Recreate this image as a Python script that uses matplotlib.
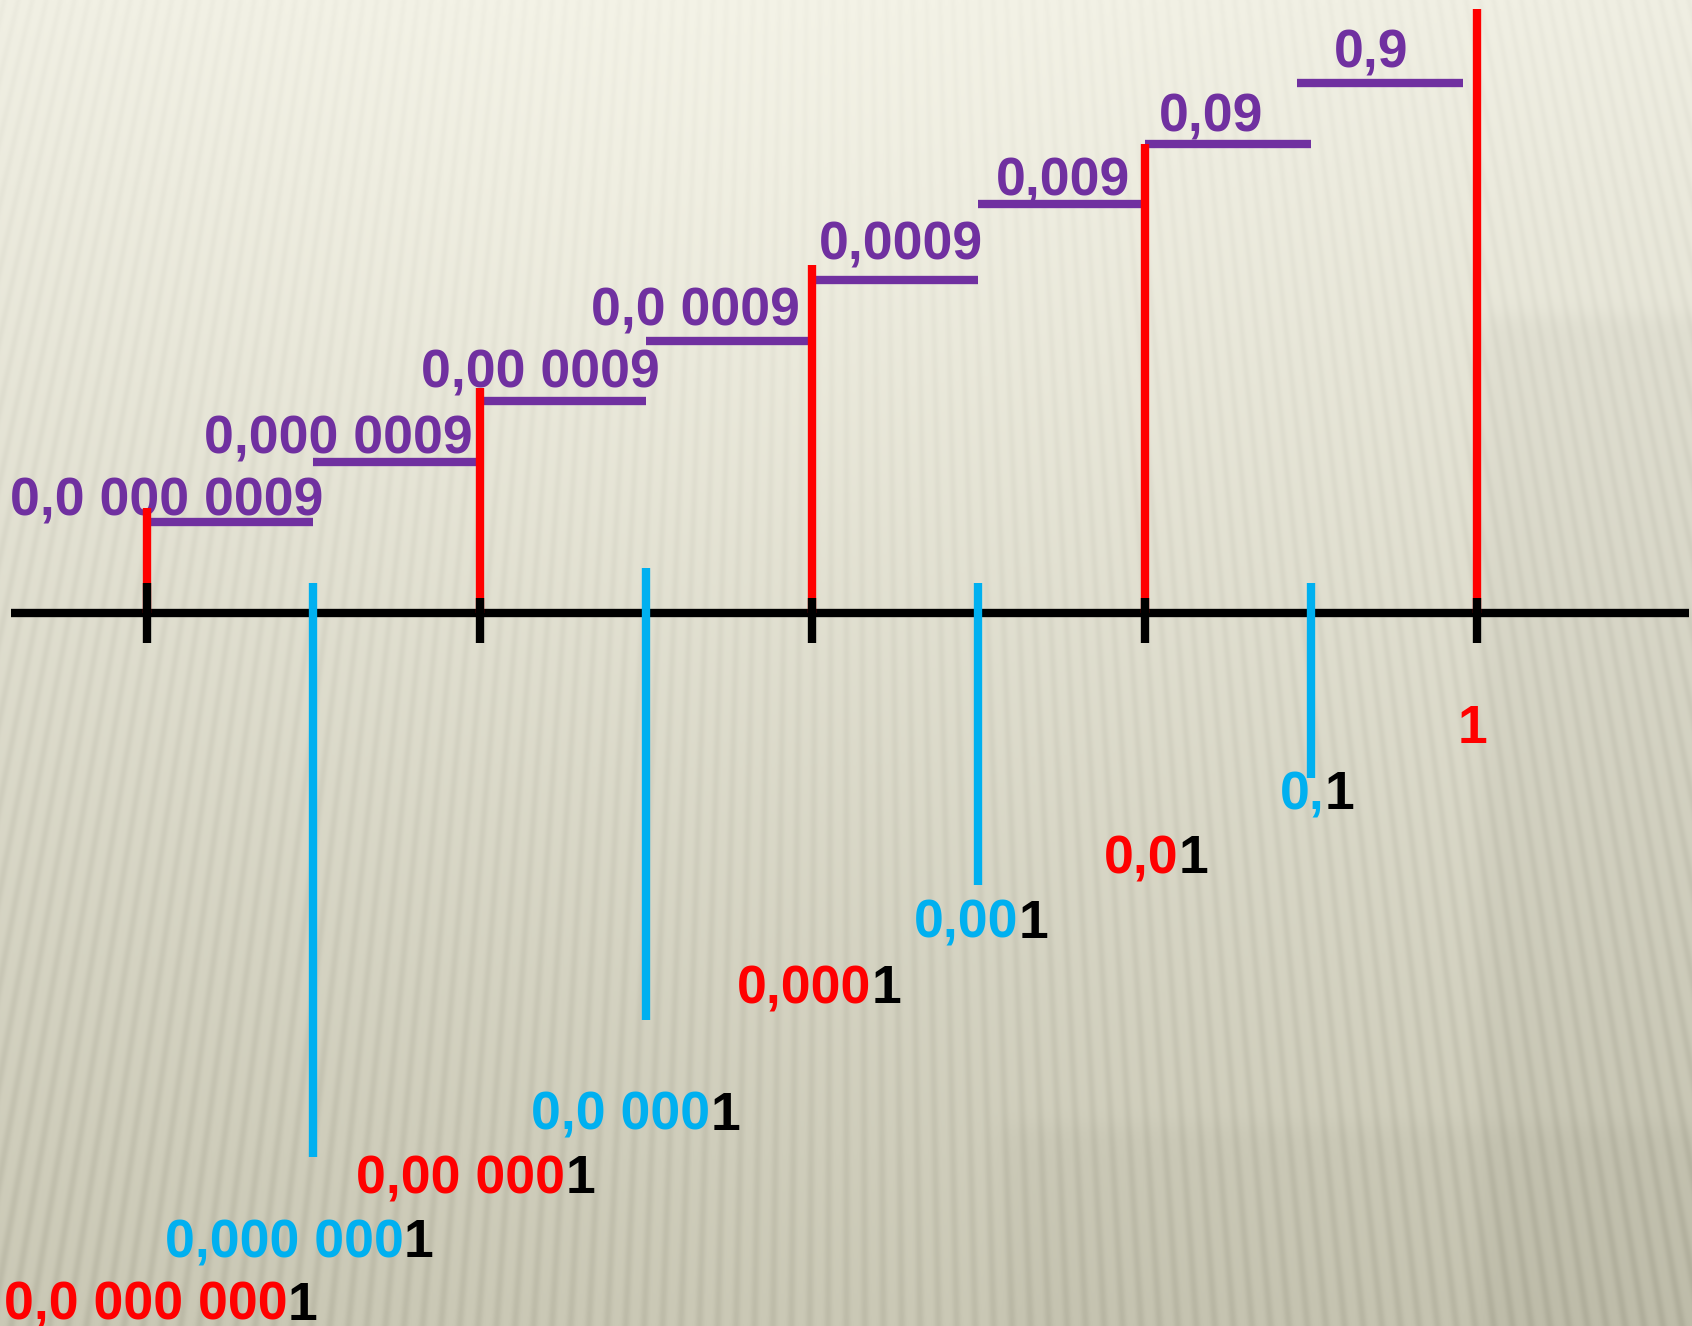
import numpy as np
import matplotlib
matplotlib.use("Agg")
import matplotlib.pyplot as plt

plt.rcParams['font.family'] = ['Liberation Sans', 'DejaVu Sans']

# ---------------- data ----------------
tick_vals = [1e-8, 1e-6, 1e-4, 1e-2, 1]
red_tops = [105, 225, 348, 469, 604]

blue_vals = [1e-7, 1e-5, 1e-3, 1e-1]
blue_tops = [30, 45, 30, 30]
blue_bottoms = [-544, -407, -272, -165]

seg_lo = [1e-8, 1e-7, 1e-6, 1e-5, 1e-4, 1e-3, 1e-2, 1e-1]
seg_hi = [1e-7, 1e-6, 1e-5, 1e-4, 1e-3, 1e-2, 1e-1, 1]
seg_levels = [91, 151, 212, 272, 333, 409, 469, 530]
seg_labels = ["0,0 000 0009", "0,000 0009", "0,00 0009", "0,0 0009",
              "0,0009", "0,009", "0,09", "0,9"]

bottom_vals = [1, 0.1, 0.01, 0.001, 1e-4, 1e-5, 1e-6, 1e-7, 1e-8]
bottom_prefix = ["", "0,", "0,0", "0,00", "0,000", "0,0 000", "0,00 000",
                 "0,000 000", "0,0 000 000"]
bottom_rows = [-130, -196, -260, -325, -390, -517, -580, -644, -707]

# ---------------- layout / style ----------------
W, H, DPI = 1692, 1326, 100
RED, BLUE, PURPLE, BLACK = "#FF0000", "#00B0F0", "#7030A0", "#000000"
LW = 6.0
FS = 38.5
seg_text_dx = [10, -7, 14, -12, 5, -14, -48, -69]     # px, right end of label vs segment end
seg_text_dy = [4, 7, 11, 14, 18, 7, 10, 13]            # px, baseline gap above segment
seg_shift = [0, 0, 0, 0, 0, 0, 0, -14]                 # px
bottom_dx = [-5, 6, 12, 3, 7, -10, -4, -14, 14]       # px
bottom_colors = [RED, BLUE, RED, BLUE, RED, BLUE, RED, BLUE, RED]
tick_above = [30, 15, 15, 15, 15]

fig = plt.figure(figsize=(W / DPI, H / DPI), dpi=DPI)

# ---------------- background texture ----------------
yy, xx = np.mgrid[0:H, 0:W].astype(float)
t = yy / H
top = np.array([239, 238, 226], float)
bot = np.array([202, 200, 181], float)
base = top[None, None, :] * (1 - t[..., None]) + bot[None, None, :] * t[..., None]
shade = np.zeros((H, W))
shade += 7 * (1 / (1 + np.exp(-(xx - 1480) / 6))) * (1 / (1 + np.exp(-(yy - 315) / 6)))
shade += 5 * (1 / (1 + np.exp(-(xx - 1000) / 8))) * (1 / (1 + np.exp(-(yy - 1125) / 6)))
shade -= 6 * np.exp(-((xx - 700) ** 2) / (2 * 500 ** 2)) * np.exp(-((yy - 250) ** 2) / (2 * 350 ** 2))
vx, vy = 846.0, -3500.0
ang = np.arctan2(xx - vx, yy - vy)
k = 2 * np.pi * 4200 / 16.0
stripe = (0.5 + 0.5 * np.cos(k * ang)) ** 2
amp = 3 + 9 * t + 4 * np.abs(xx - vx) / W
bg = base - shade[..., None] - (amp * stripe)[..., None]
bg = np.clip(bg, 0, 255).astype(np.uint8)
fig.figimage(bg, xo=0, yo=0, origin='upper', zorder=0)

# ---------------- axes ----------------
ax = fig.add_axes([0, 0, 1, 1])
ax.set_zorder(1)
ax.patch.set_visible(False)
ax.set_xscale('log')
PX_DEC = 166.25
X0 = 147.0
ax.set_xlim(10 ** (-8 - X0 / PX_DEC), 10 ** (-8 + (W - X0) / PX_DEC))
ax.set_ylim(-(H - 613), 613)
ax.axis('off')

def px_to_log(v, dpx):
    return v * 10 ** (dpx / PX_DEC)

# number line
ax.plot([10 ** (-8 - 136 / PX_DEC), 10 ** (-8 + 1542 / PX_DEC)], [0, 0],
        color=BLACK, lw=LW, solid_capstyle='butt', zorder=3)

# red verticals
for v, top_ in zip(tick_vals, red_tops):
    ax.plot([v, v], [0, top_], color=RED, lw=LW, solid_capstyle='butt', zorder=5)
# black ticks
for v, up in zip(tick_vals, tick_above):
    ax.plot([v, v], [-30, up], color=BLACK, lw=LW, solid_capstyle='butt', zorder=6)
# blue verticals
for v, t0, b0 in zip(blue_vals, blue_tops, blue_bottoms):
    ax.plot([v, v], [b0, t0], color=BLUE, lw=LW, solid_capstyle='butt', zorder=4)

# purple steps
for lo, hi, lev, lab, dx, dy, sh in zip(seg_lo, seg_hi, seg_levels, seg_labels,
                                        seg_text_dx, seg_text_dy, seg_shift):
    a, b = px_to_log(lo, sh), px_to_log(hi, sh)
    ax.plot([a, b], [lev, lev], color=PURPLE, lw=LW, solid_capstyle='butt', zorder=4)
    ax.annotate(lab, xy=(hi, lev), xytext=(dx, dy + 2), textcoords='offset pixels',
                ha='right', va='baseline', fontsize=FS, fontweight='bold',
                color=PURPLE, zorder=4.5)

# bottom two-coloured labels
renderer = fig.canvas.get_renderer()
for v, pre, row, dx, col in zip(bottom_vals, bottom_prefix, bottom_rows, bottom_dx, bottom_colors):
    px, py = ax.transData.transform((v, row))
    px += dx
    full = pre + "1"
    tmp = fig.text(px / W, py / H, full, ha='center', va='baseline',
                   fontsize=FS, fontweight='bold', alpha=0)
    bb = tmp.get_window_extent(renderer)
    tmp.remove()
    if pre == "":
        fig.text(px / W, py / H, "1", ha='center', va='baseline',
                 fontsize=FS, fontweight='bold', color=col, zorder=7)
    else:
        fig.text(bb.x0 / W, py / H, pre, ha='left', va='baseline',
                 fontsize=FS, fontweight='bold', color=col, zorder=7)
        fig.text(bb.x1 / W, py / H, "1", ha='right', va='baseline',
                 fontsize=FS, fontweight='bold', color=BLACK, zorder=7)

fig.savefig("out.png", dpi=DPI)
